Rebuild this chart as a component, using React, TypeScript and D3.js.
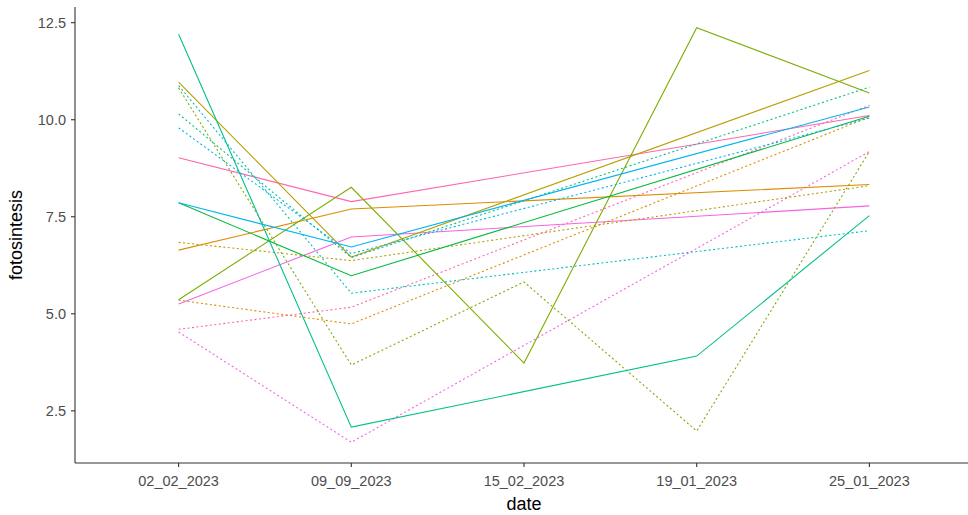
import { useMemo } from "react";
import * as d3 from "d3";

const dates = ["02_02_2023", "09_09_2023", "15_02_2023", "19_01_2023", "25_01_2023"];
const yTicks = [2.5, 5.0, 7.5, 10.0, 12.5];

// one entry per line: colour, linetype and the values per date (null = no measurement)
const seriesColor = [
  "#FF64B0", "#FF64B0",
  "#F564E3", "#F564E3",
  "#DE8C00", "#DE8C00",
  "#B79F00", "#B79F00",
  "#7CAE00", "#7CAE00",
  "#00BA38",
  "#00C08B", "#00C08B",
  "#00BFC4",
  "#00B4F0", "#00B4F0",
];
const seriesType = [
  "solid", "dotted",
  "solid", "dotted",
  "solid", "dotted",
  "solid", "dotted",
  "solid", "dotted",
  "solid",
  "solid", "dotted",
  "dotted",
  "solid", "dotted",
];
const fotosintesis: (number | null)[][] = [
  [9.02, 7.89, null, null, 10.11],
  [4.6, 5.17, null, null, 10.37],
  [5.25, 6.98, null, null, 7.78],
  [4.53, 1.69, null, null, 9.18],
  [6.64, 7.7, null, null, 8.33],
  [5.35, 4.74, null, null, 10.07],
  [10.97, 6.46, null, null, 11.27],
  [6.84, 6.37, null, null, 8.3],
  [5.36, 8.26, 3.73, 12.37, 10.69],
  [10.82, 3.68, 5.82, 1.98, 9.18],
  [7.86, 5.98, null, null, 10.09],
  [12.2, 2.08, null, 3.91, 7.53],
  [10.15, 6.45, null, null, 10.84],
  [10.88, 5.53, null, null, 7.14],
  [7.86, 6.72, null, null, 10.33],
  [9.79, 6.55, null, null, 10.04],
];

export default function App() {
  const width = 968;
  const height = 515;
  const margin = { top: 7, right: -5, bottom: 52, left: 75 };
  const innerW = width - margin.left - margin.right;
  const innerH = height - margin.top - margin.bottom;

  const { x, y, paths } = useMemo(() => {
    // discrete axis with ggplot's 0.6 expansion on each side
    const x = d3
      .scaleLinear()
      .domain([-0.6, dates.length - 1 + 0.6])
      .range([0, innerW]);

    const all = fotosintesis.flat().filter((v) => v != null) as number[];
    const [lo, hi] = d3.extent(all) as [number, number];
    const pad = (hi - lo) * 0.05;
    const y = d3
      .scaleLinear()
      .domain([lo - pad, hi + pad])
      .range([innerH, 0]);

    const line = d3
      .line<[number, number]>()
      .x((d) => x(d[0]))
      .y((d) => y(d[1]));

    const paths = fotosintesis.map((vals) => {
      const pts = vals
        .map((v, i) => [i, v] as [number, number | null])
        .filter((d) => d[1] != null) as [number, number][];
      return line(pts) || "";
    });
    return { x, y, paths };
  }, [innerW, innerH]);

  const font = "'Liberation Sans', Arial, sans-serif";

  return (
    <div style={{ position: "fixed", left: 0, top: 0 }}>
      <svg width={width} height={height} style={{ display: "block", background: "#fff" }}>
        <g transform={`translate(${margin.left},${margin.top})`}>
          {paths.map((d, i) => (
            <path
              key={i}
              d={d}
              fill="none"
              stroke={seriesColor[i]}
              strokeWidth={1.1}
              strokeDasharray={seriesType[i] === "dotted" ? "2,2.5" : undefined}
            />
          ))}

          {/* y axis */}
          <line x1={0} x2={0} y1={0} y2={innerH} stroke="#333" strokeWidth={1.1} />
          {yTicks.map((t) => (
            <g key={t} transform={`translate(0,${y(t)})`}>
              <line x1={-4} x2={0} stroke="#333" strokeWidth={1.1} />
              <text
                x={-9}
                dy="0.36em"
                textAnchor="end"
                fontFamily={font}
                fontSize={14.5}
                fill="#4D4D4D"
              >
                {t.toFixed(1)}
              </text>
            </g>
          ))}

          {/* x axis */}
          <line x1={0} x2={width - margin.left} y1={innerH} y2={innerH} stroke="#333" strokeWidth={1.1} />
          {dates.map((dt, i) => (
            <g key={dt} transform={`translate(${x(i)},${innerH})`}>
              <line y1={0} y2={4} stroke="#333" strokeWidth={1.1} />
              <text
                y={23}
                textAnchor="middle"
                fontFamily={font}
                fontSize={14.5}
                fill="#4D4D4D"
              >
                {dt}
              </text>
            </g>
          ))}

          <text
            x={innerW / 2}
            y={innerH + 47}
            textAnchor="middle"
            fontFamily={font}
            fontSize={18}
            fill="#000"
          >
            date
          </text>
          <text
            transform={`translate(${-53},${innerH / 2}) rotate(-90)`}
            textAnchor="middle"
            fontFamily={font}
            fontSize={18}
            fill="#000"
          >
            fotosintesis
          </text>
        </g>
      </svg>
    </div>
  );
}
